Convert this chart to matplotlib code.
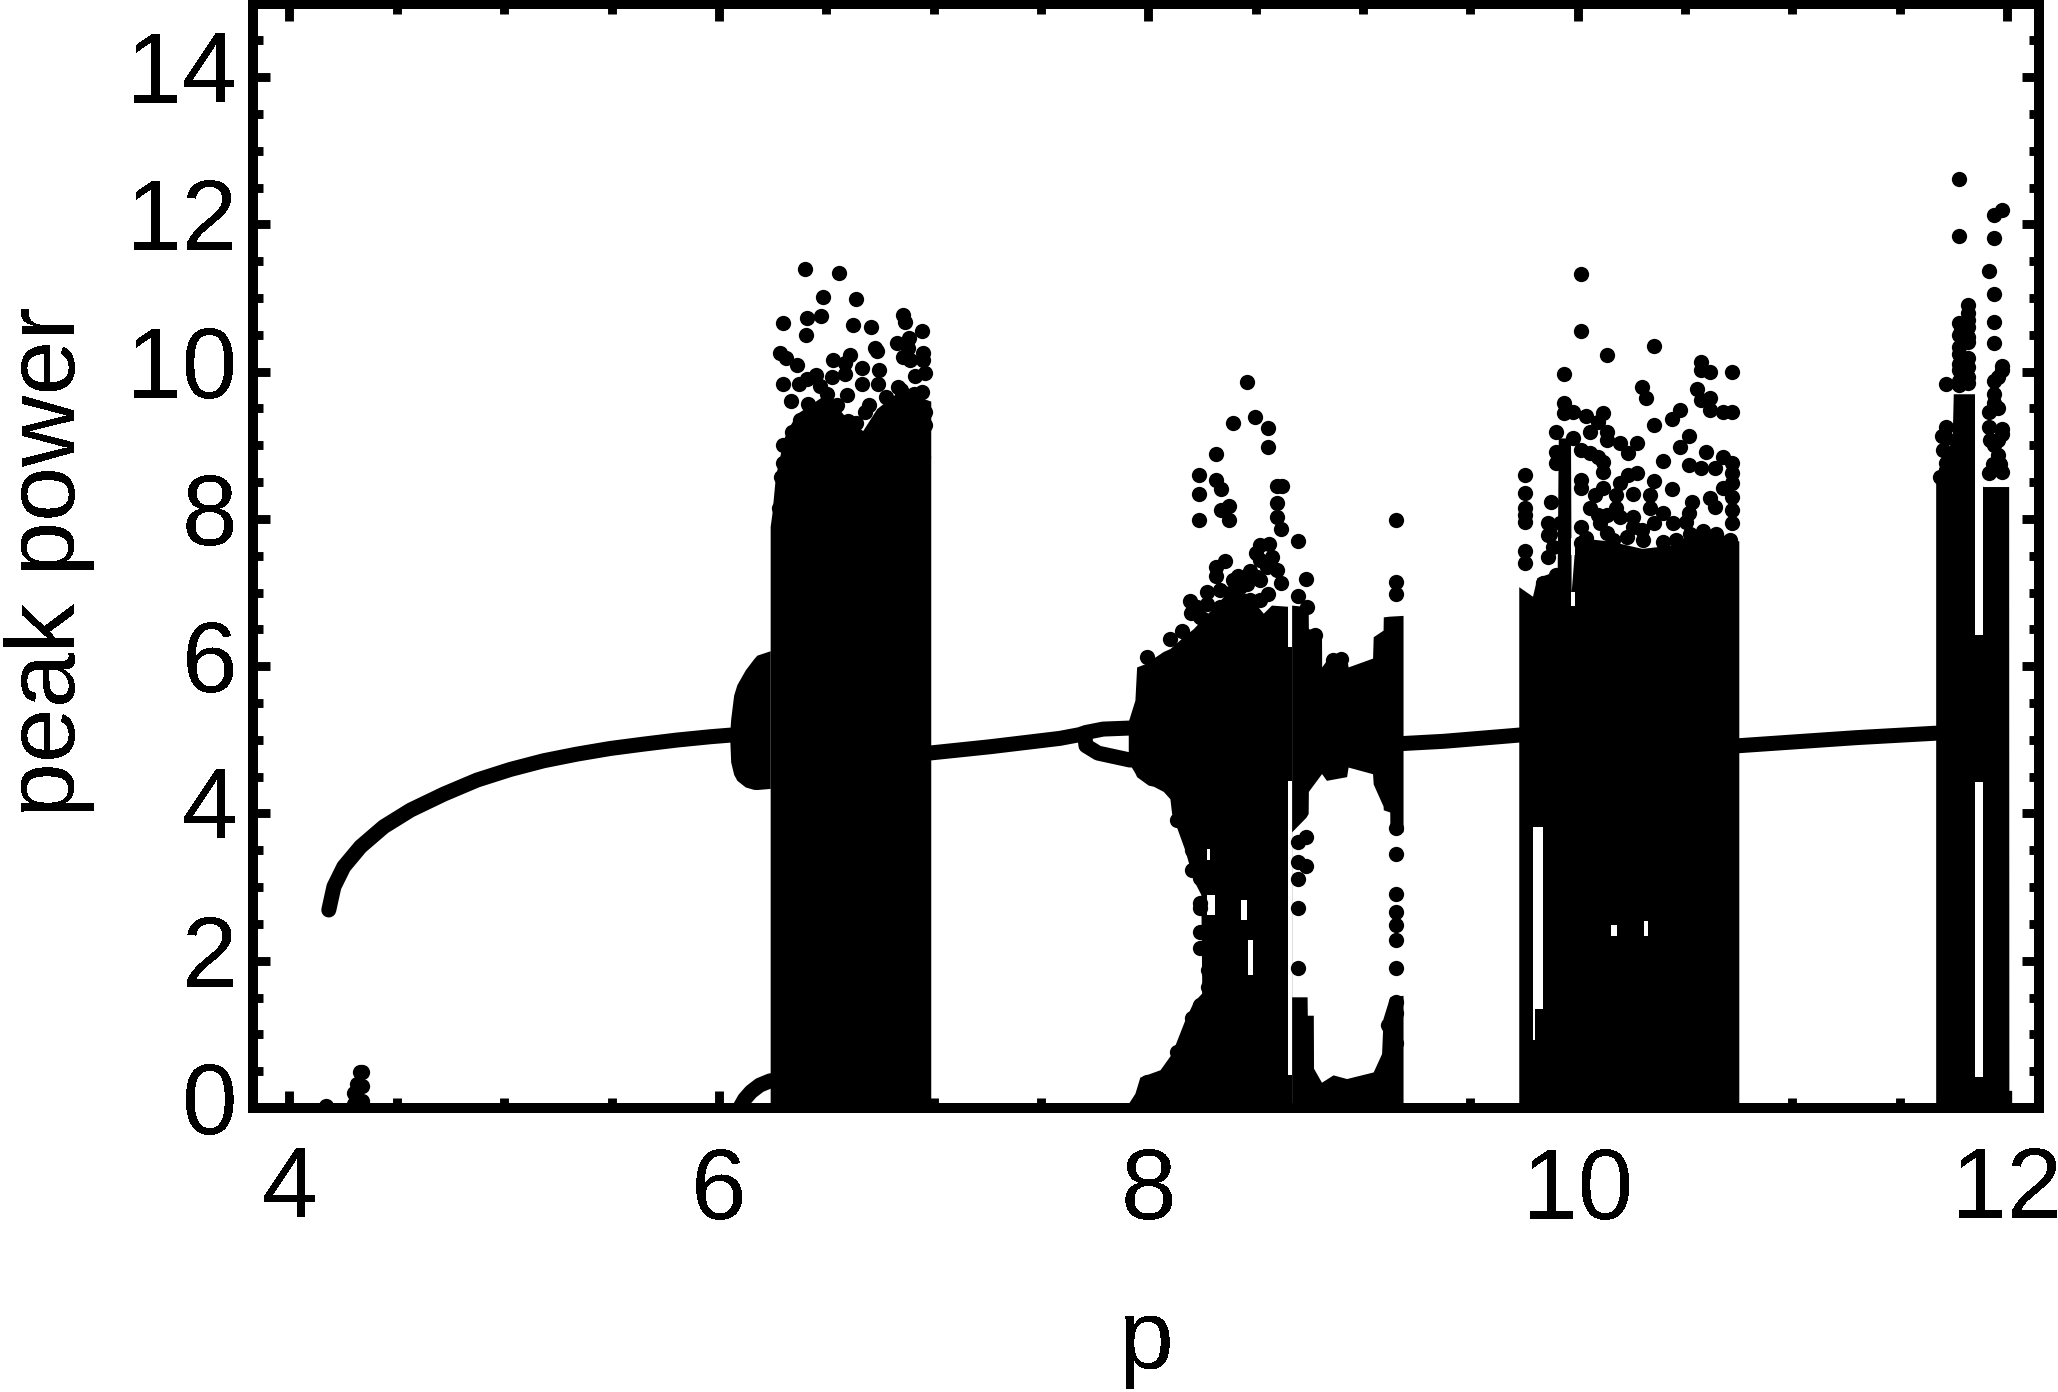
import matplotlib
matplotlib.use('Agg')
import matplotlib.pyplot as plt
from matplotlib.ticker import MultipleLocator

plt.rcParams['font.family'] = ['Liberation Sans', 'DejaVu Sans']
plt.rcParams['text.antialiased'] = False

# stable branch
line_a_p = [4.183, 4.207, 4.253, 4.331, 4.439, 4.564, 4.719, 4.874, 5.029, 5.184, 5.339, 5.495, 5.650, 5.805, 5.960, 6.053]
line_a_v = [2.689, 3.006, 3.277, 3.549, 3.820, 4.046, 4.263, 4.454, 4.598, 4.716, 4.806, 4.883, 4.942, 4.997, 5.042, 5.064]
line_b_p = [6.98, 7.263, 7.589, 7.68, 7.71, 7.79, 7.915]
line_b_v = [4.82, 4.906, 5.02, 5.07, 5.10, 5.146, 5.16]
line_c_p = [7.705, 7.71, 7.766, 7.916]
line_c_v = [5.05, 4.92, 4.82, 4.725]
line_d_p = [9.187, 9.377, 9.75]
line_d_v = [4.95, 4.98, 5.07]
line_e_p = [10.75, 11.0, 11.3, 11.668]
line_e_v = [4.92, 4.97, 5.03, 5.09]
arc_p = [6.097, 6.12, 6.15, 6.19, 6.24]
arc_v = [0.0, 0.12, 0.22, 0.31, 0.37]

# bubble before the first chaotic window
bubble_p = [6.05, 6.055, 6.069, 6.084, 6.123, 6.162, 6.177, 6.239]
bubble_hi = [5.07, 5.28, 5.61, 5.75, 5.95, 6.10, 6.15, 6.21]
bubble_lo = [5.07, 4.70, 4.53, 4.45, 4.36, 4.327, 4.325, 4.34]

# solid parts of the windows
band1_p = [6.239, 6.247, 6.263, 6.30, 6.317, 6.363, 6.5, 6.6, 6.67, 6.736, 6.845, 6.987]
band1_hi = [7.9, 8.07, 8.57, 9.07, 9.2, 9.43, 9.7, 9.35, 9.2, 9.5, 9.75, 9.6]

band2_p = [7.907, 7.938, 7.946, 8.0, 8.024, 8.07, 8.101, 8.109, 8.171, 8.21, 8.245, 8.255, 8.365, 8.458, 8.536, 8.574, 8.668]
band2_hi = [5.25, 5.54, 5.99, 6.05, 6.11, 6.2, 6.24, 6.26, 6.42, 6.51, 6.62, 6.65, 6.99, 6.99, 6.72, 6.83, 6.81]
band2_lo = [4.7, 4.55, 4.50, 4.385, 4.37, 4.30, 4.20, 4.0, 3.5, 3.1, 2.9, 0, 0, 0, 0, 0, 0]
band2_base_p = [7.907, 7.938, 7.961, 8.055, 8.109, 8.171, 8.21, 8.249, 8.29]
band2_base_v = [0.06, 0.2, 0.42, 0.52, 0.74, 1.2, 1.44, 1.56, 1.9]
band2_right_p = [8.668, 8.735, 8.745, 8.746, 8.807, 8.808, 8.83, 8.924, 8.931, 9.045, 9.048, 9.094, 9.095, 9.125, 9.126, 9.187]
band2_right_hi = [6.83, 6.81, 6.81, 6.51, 6.47, 5.99, 6.08, 6.13, 5.99, 6.11, 6.40, 6.49, 6.67, 6.68, 6.68, 6.69]
band2_right_lo = [3.75, 3.95, 4.0, 4.3, 4.54, 4.54, 4.45, 4.5, 4.63, 4.54, 4.4, 4.1, 4.05, 4.02, 3.75, 3.75]
band2_low_p = [8.668, 8.74, 8.741, 8.769, 8.77, 8.807, 8.861, 8.924, 9.048, 9.087, 9.094, 9.125, 9.187]
band2_low_v = [1.51, 1.51, 1.26, 1.26, 0.54, 0.35, 0.45, 0.40, 0.49, 0.74, 1.22, 1.51, 1.53]

band3_p = [9.726, 9.79, 9.81, 9.905, 9.91, 9.967, 9.97, 9.99, 10.15, 10.3, 10.45, 10.55, 10.62, 10.751]
band3_hi = [7.08, 6.95, 7.2, 7.3, 9.1, 9.1, 7.0, 7.75, 7.7, 7.6, 7.65, 7.85, 7.85, 7.7]

band4_p = [11.668, 11.685, 11.72, 11.745, 11.75, 11.849, 11.887, 12.008, 12.009, 12.022]
band4_hi = [8.57, 8.7, 8.9, 9.1, 9.7, 9.7, 8.44, 8.44, 0.24, 0.24]

# white slits and holes inside the solid parts
gap_p0 = [8.652, 8.652, 8.43, 8.466, 8.272, 8.272, 9.793, 9.793, 9.969, 9.969, 10.309, 10.158, 11.849, 11.849]
gap_p1 = [8.668, 8.668, 8.46, 8.489, 8.31, 8.287, 9.84, 9.803, 9.987, 9.987, 10.327, 10.184, 11.887, 11.887]
gap_lo = [0.45, 6.26, 2.55, 1.8, 2.62, 3.37, 1.35, 0.92, 6.82, 7.51, 2.33, 2.33, 0.425, 6.42]
gap_hi = [4.44, 6.85, 2.82, 2.28, 2.89, 3.52, 3.82, 1.35, 7.01, 7.735, 2.54, 2.48, 4.43, 9.8]

# small spike near p=4.3
spike_p = [4.17, 4.30, 4.30, 4.315, 4.315, 4.337, 4.337, 4.337, 4.33]
spike_v = [0.03, 0.05, 0.2, 0.1, 0.33, 0.1, 0.3, 0.49, 0.49]

# separate points above and around the windows
dots1_p = [6.399, 6.559, 6.483, 6.641, 6.301, 6.411, 6.478, 6.627, 6.709, 6.860, 6.866, 6.948, 6.405, 6.829, 6.888,
           6.883, 6.725, 6.735, 6.287, 6.313, 6.366, 6.534, 6.611, 6.588, 6.860, 6.891, 6.953, 6.950, 6.669, 6.746,
           6.529, 6.588, 6.451, 6.410, 6.375, 6.301, 6.666, 6.743, 6.960, 6.914, 6.836, 6.945, 6.338, 6.503, 6.596,
           6.417, 6.379, 6.340, 6.301, 6.301, 6.290, 6.332, 6.278, 6.960, 6.960, 6.953,
           6.6, 6.64, 6.68, 6.70, 6.78, 6.85, 6.91, 6.47, 6.55]
dots1_v = [11.396, 11.346, 11.011, 10.993, 10.667, 10.735, 10.762, 10.636, 10.613, 10.776, 10.676, 10.559, 10.504,
           10.396, 10.459, 10.328, 10.328, 10.283, 10.260, 10.179, 10.088, 10.165, 10.224, 10.111, 10.201, 10.156,
           10.260, 10.156, 10.056, 10.020, 9.921, 9.966, 9.952, 9.907, 9.839, 9.839, 9.839, 9.839, 9.984, 9.939,
           9.794, 9.726, 9.599, 9.703, 9.681, 9.567, 9.35, 9.174, 9.002, 8.753, 8.572, 8.345, 8.142, 9.454, 9.273, 8.843,
           9.33, 9.30, 9.45, 9.55, 9.65, 9.75, 9.7, 9.8, 9.55]

dots2_p = [8.458, 8.498, 8.397, 8.559, 8.559, 8.318, 8.238, 8.318, 8.339, 8.238, 8.598, 8.621, 8.598, 8.377, 8.339,
           8.377, 8.238, 8.598, 8.618, 8.699, 9.156, 8.520, 8.564, 8.500, 8.578, 8.357, 8.318, 8.318, 8.474, 8.598,
           8.419, 8.618, 8.737, 9.156, 9.156, 8.699, 8.559, 8.520, 8.276, 8.194, 8.197, 8.256, 8.740, 8.159, 8.101,
           7.992, 8.862, 8.900, 8.778,
           9.156, 9.156, 9.156, 9.156, 9.156, 9.156, 9.156, 8.699, 8.699, 8.699, 8.737, 8.699, 8.737, 8.699,
           9.156, 9.156, 9.118, 9.156, 8.135, 8.202, 8.135, 8.241, 8.241, 8.241, 8.241, 8.202, 8.241, 8.202,
           8.28, 8.28, 8.241, 8.202, 7.992,
           8.334, 8.380, 8.427, 8.474, 8.520, 8.396, 8.458, 8.520, 8.551, 8.505, 8.334, 8.272, 8.225, 8.241]
dots2_v = [9.862, 9.387, 9.305, 9.237, 8.979, 8.880, 8.599, 8.527, 8.404, 8.332, 8.445, 8.454, 8.219, 8.178, 8.119,
           7.984, 7.979, 8.020, 7.861, 7.698, 7.979, 7.644, 7.653, 7.531, 7.477, 7.431, 7.350, 7.228, 7.296, 7.305,
           7.223, 7.133, 7.183, 7.137, 6.974, 6.952, 6.979, 7.169, 7.001, 6.888, 6.716, 6.635, 6.798, 6.476, 6.372,
           6.119, 6.083, 6.092, 6.422,
           3.797, 3.449, 2.906, 2.657, 2.485, 2.281, 1.896, 2.711, 3.105, 3.345, 3.286, 3.616, 3.684, 1.896,
           1.444, 1.285, 1.127, 0.878, 3.910, 3.761, 0.765, 2.779, 2.711, 2.394, 2.168, 3.231, 3.118, 3.503,
           1.874, 1.647, 1.398, 1.218, 0.358,
           7.03, 6.99, 7.08, 6.90, 6.90, 7.17, 7.12, 7.44, 7.35, 7.21, 6.81, 6.85, 6.81, 6.67]

dots3_p = [10.018, 10.018, 10.138, 10.358, 9.937, 10.577, 10.619, 10.577, 10.718, 10.298, 10.318, 10.557, 10.616,
           10.577, 10.619, 10.678, 10.720, 10.478, 10.439, 10.358, 9.937, 9.937, 9.979, 10.038, 10.119, 10.097, 9.899,
           10.057, 10.138, 10.138, 9.979, 10.518, 10.478, 10.599, 10.197, 10.277, 10.237, 9.899, 9.899, 10.018, 10.057,
           10.097, 10.119, 10.119, 10.398, 10.518, 10.577, 10.639, 10.678, 10.720, 10.720, 10.720, 10.678, 9.757,
           9.757, 9.757, 9.757, 9.757, 9.878, 9.860, 9.860, 9.757, 9.757, 9.860, 9.840, 9.899, 10.018, 10.018, 10.277,
           10.237, 10.197, 10.358, 10.439, 10.259, 10.119, 10.080, 10.177, 10.338, 10.338, 10.398, 10.057, 10.097,
           10.138, 10.177, 10.197, 10.259, 10.018, 10.104, 10.138, 10.535, 10.619, 10.720, 10.518, 10.639, 10.720,
           10.720, 10.445, 10.358, 10.298, 10.259, 10.038, 10.018,
           10.166, 10.228, 10.305, 10.398, 10.46, 10.523, 10.585, 10.647, 10.709, 10.507, 9.871, 9.886, 9.917]
dots3_v = [11.328, 10.554, 10.224, 10.346, 9.966, 10.133, 9.998, 10.020, 9.989, 9.794, 9.649, 9.771, 9.636, 9.613,
           9.477, 9.446, 9.459, 9.477, 9.355, 9.278, 9.568, 9.432, 9.455, 9.396, 9.432, 9.319, 9.174, 9.183, 9.183,
           9.070, 9.093, 9.129, 8.980, 8.907, 9.025, 9.025, 8.889, 8.912, 8.762, 8.934, 8.889, 8.844, 8.776, 8.631,
           8.781, 8.731, 8.685, 8.685, 8.844, 8.753, 8.618, 8.482, 8.423, 8.595, 8.346, 8.143, 7.961, 8.052, 8.233,
           7.948, 7.781, 7.568, 7.396, 7.477, 7.133, 7.238, 8.527, 8.414, 8.627, 8.595, 8.482, 8.518, 8.400, 8.337,
           8.414, 8.323, 8.323, 8.323, 8.143, 8.075, 8.143, 8.052, 8.052, 8.143, 8.029, 8.029, 7.885, 7.939, 7.803,
           8.233, 8.278, 8.301, 8.075, 8.165, 8.120, 7.939, 7.939, 7.939, 7.849, 7.893, 7.735, 7.667,
           7.71, 7.76, 7.71, 7.69, 7.71, 7.80, 7.83, 7.80, 7.71, 7.96, 7.80, 7.62, 7.94]

dots4_p = [11.776, 11.776, 11.978, 11.938, 11.938, 11.916, 11.938, 11.938, 11.938, 11.978, 11.978, 11.938, 11.958,
           11.938, 11.958, 11.916, 11.916, 11.978, 11.938, 11.958, 11.978, 11.916, 11.817, 11.817, 11.817, 11.776,
           11.776, 11.817, 11.817, 11.776, 11.776, 11.817, 11.776, 11.717, 11.717, 11.699, 11.717,
           11.919, 11.958, 11.935, 11.966, 11.978, 11.938,
           11.817, 11.776, 11.817, 11.817, 11.776, 11.787, 11.817, 11.776, 11.717, 11.702, 11.717, 11.686]
dots4_v = [12.618, 11.844, 12.192, 12.134, 11.821, 11.373, 11.048, 10.672, 10.396, 10.079, 10.020, 9.876, 9.93,
           9.568, 9.50, 9.455, 9.251, 9.215, 9.0, 8.867, 8.640, 8.627, 10.907, 10.79, 10.609, 10.663, 10.496, 10.405,
           10.179, 10.238, 10.02, 9.84, 9.817, 9.826, 9.251, 9.125, 8.763,
           9.07, 9.07, 8.75, 8.75, 9.16, 9.70,
           10.47, 10.34, 10.07, 9.93, 10.11, 10.56, 10.70, 9.88, 9.1, 8.93, 8.66, 8.57]

fig = plt.figure(figsize=(20.58, 13.92), dpi=100)
ax = fig.add_axes([253 / 2058, (1392 - 1108) / 1392, (2038.5 - 253) / 2058, (1108 - 3.5) / 1392])

# solid regions
ax.fill_between(bubble_p, bubble_lo, bubble_hi, color='k', lw=0)
ax.fill_between(band1_p, 0, band1_hi, color='k', lw=0)
ax.fill_between(band2_p, band2_lo, band2_hi, color='k', lw=0)
ax.fill_between(band2_base_p, 0, band2_base_v, color='k', lw=0)
ax.fill_between(band2_right_p, band2_right_lo, band2_right_hi, color='k', lw=0)
ax.fill_between(band2_low_p, 0, band2_low_v, color='k', lw=0)
ax.fill_between(band3_p, 0, band3_hi, color='k', lw=0)
ax.fill_between(band4_p, 0, band4_hi, color='k', lw=0)

for a, b, lo, hi in zip(gap_p0, gap_p1, gap_lo, gap_hi):
    ax.fill_between([a, b], lo, hi, color='w', lw=0, zorder=2)

# lines
for px, py in [(line_a_p, line_a_v), (line_b_p, line_b_v), (line_c_p, line_c_v),
               (line_d_p, line_d_v), (line_e_p, line_e_v), (arc_p, arc_v)]:
    ax.plot(px, py, color='k', lw=10.8, solid_capstyle='round', zorder=3)

# points
for px, py in [(spike_p, spike_v), (dots1_p, dots1_v), (dots2_p, dots2_v), (dots3_p, dots3_v), (dots4_p, dots4_v)]:
    ax.plot(px, py, 'o', color='k', ms=11, mew=0, zorder=3)

ax.set_xlim(3.83, 12.147)
ax.set_ylim(0, 15)
ax.xaxis.set_major_locator(MultipleLocator(2))
ax.xaxis.set_minor_locator(MultipleLocator(0.5))
ax.yaxis.set_major_locator(MultipleLocator(2))
ax.yaxis.set_minor_locator(MultipleLocator(0.5))
ax.tick_params(which='major', direction='in', top=True, right=True, length=12.2, width=6.4,
               labelsize=72, pad=11)
ax.tick_params(which='minor', direction='in', top=True, right=True, length=7.3, width=6.4)
ax.tick_params(axis='x', which='major', pad=27)
for s in ax.spines.values():
    s.set_linewidth(7.2)
    s.set_zorder(5)
for lab in ax.get_yticklabels():
    lab.set_va('center')

ax.set_xlabel('p', fontsize=71, labelpad=42)
ax.set_ylabel('peak power', fontsize=71, labelpad=23, y=0.494)

fig.savefig('out.png', dpi=100)
